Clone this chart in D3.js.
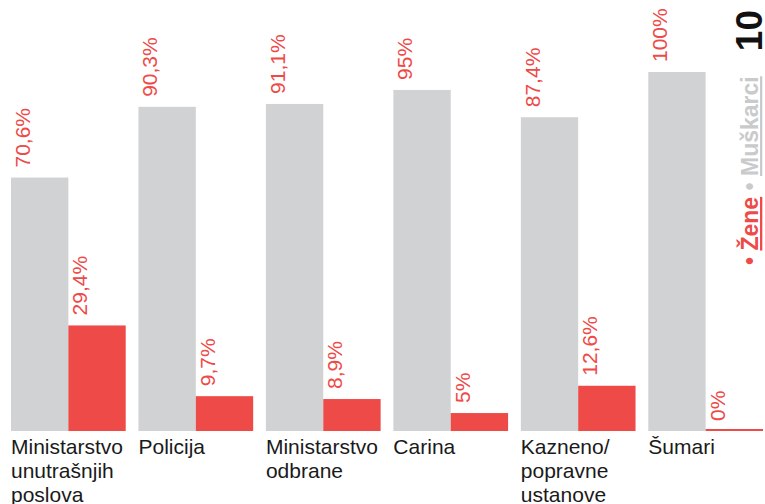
<!DOCTYPE html>
<html>
<head>
<meta charset="utf-8">
<script src="https://cdn.jsdelivr.net/npm/d3@7"></script>
<style>
  body { margin: 0; background: #fff; }
  svg { display: block; font-family: "Liberation Sans", Arial, Helvetica, sans-serif; }
</style>
</head>
<body>
<svg id="chart" width="765" height="504"></svg>
<script>
// categories (label lines) and shares in percent
const categories = [
  ["Ministarstvo", "unutrašnjih", "poslova"],
  ["Policija"],
  ["Ministarstvo", "odbrane"],
  ["Carina"],
  ["Kazneno/", "popravne", "ustanove"],
  ["Šumari"]
];
const muskarci = [70.6, 90.3, 91.1, 95, 87.4, 100];
const zene = [29.4, 9.7, 8.9, 5, 12.6, 0];
const valueLabels = {
  m: ["70,6%", "90,3%", "91,1%", "95%", "87,4%", "100%"],
  z: ["29,4%", "9,7%", "8,9%", "5%", "12,6%", "0%"]
};

const GREY = "#d1d2d4";
const RED = "#ee4a47";

const svg = d3.select("#chart");
const ids = categories.map((c, i) => i);

const x0 = d3.scaleBand().domain(ids).range([11, 763]).paddingInner(0.1).paddingOuter(0);
const x1 = d3.scaleBand().domain(["m", "z"]).range([0, x0.bandwidth()]);
const y = d3.scaleLinear().domain([0, 100]).range([431, 72]);

const rows = ids.map(i => ({ i: i, vals: [
  { key: "m", v: muskarci[i], label: valueLabels.m[i] },
  { key: "z", v: zene[i], label: valueLabels.z[i] }
] }));

const group = svg.selectAll("g.cat")
  .data(rows)
  .enter()
  .append("g")
  .attr("class", "cat")
  .attr("transform", d => "translate(" + x0(d.i) + ",0)");

group.selectAll("rect")
  .data(d => d.vals)
  .enter()
  .append("rect")
  .attr("x", d => x1(d.key))
  .attr("width", x1.bandwidth())
  .attr("y", d => Math.min(y(d.v), y(0) - 2))
  .attr("height", d => Math.max(y(0) - y(d.v), 2))
  .attr("fill", d => d.key === "m" ? GREY : RED);

// rotated value labels
group.selectAll("text.val")
  .data(d => d.vals)
  .enter()
  .append("text")
  .attr("class", "val")
  .attr("transform", d => "translate(" + (x1(d.key) + 19) + "," + (y(d.v) - 10) + ") rotate(-90)")
  .attr("fill", RED)
  .attr("font-size", 21)
  .text(d => d.label);

// category labels
group.append("text")
  .attr("class", "cat-label")
  .attr("fill", "#1a1a1a")
  .attr("font-size", 21)
  .selectAll("tspan")
  .data(d => categories[d.i])
  .enter()
  .append("tspan")
  .attr("x", 0)
  .attr("y", (d, j) => 454 + j * 24)
  .text(d => d);

// legend (rotated)
const legend = svg.append("text")
  .attr("transform", "translate(758,265) rotate(-90)")
  .attr("font-size", 23)
  .attr("font-weight", "bold");
legend.append("tspan").attr("fill", RED).text("• ");
legend.append("tspan").attr("fill", RED).attr("text-decoration", "underline").text("Žene");
legend.append("tspan").attr("fill", "#c9cacc").text(" • ");
legend.append("tspan").attr("fill", "#c9cacc").attr("text-decoration", "underline").text("Muškarci");

// page number
svg.append("text")
  .attr("transform", "translate(762,10) rotate(-90)")
  .attr("text-anchor", "end")
  .attr("font-size", 37)
  .attr("font-weight", "bold")
  .attr("fill", "#111")
  .text("10");
</script>
</body>
</html>
